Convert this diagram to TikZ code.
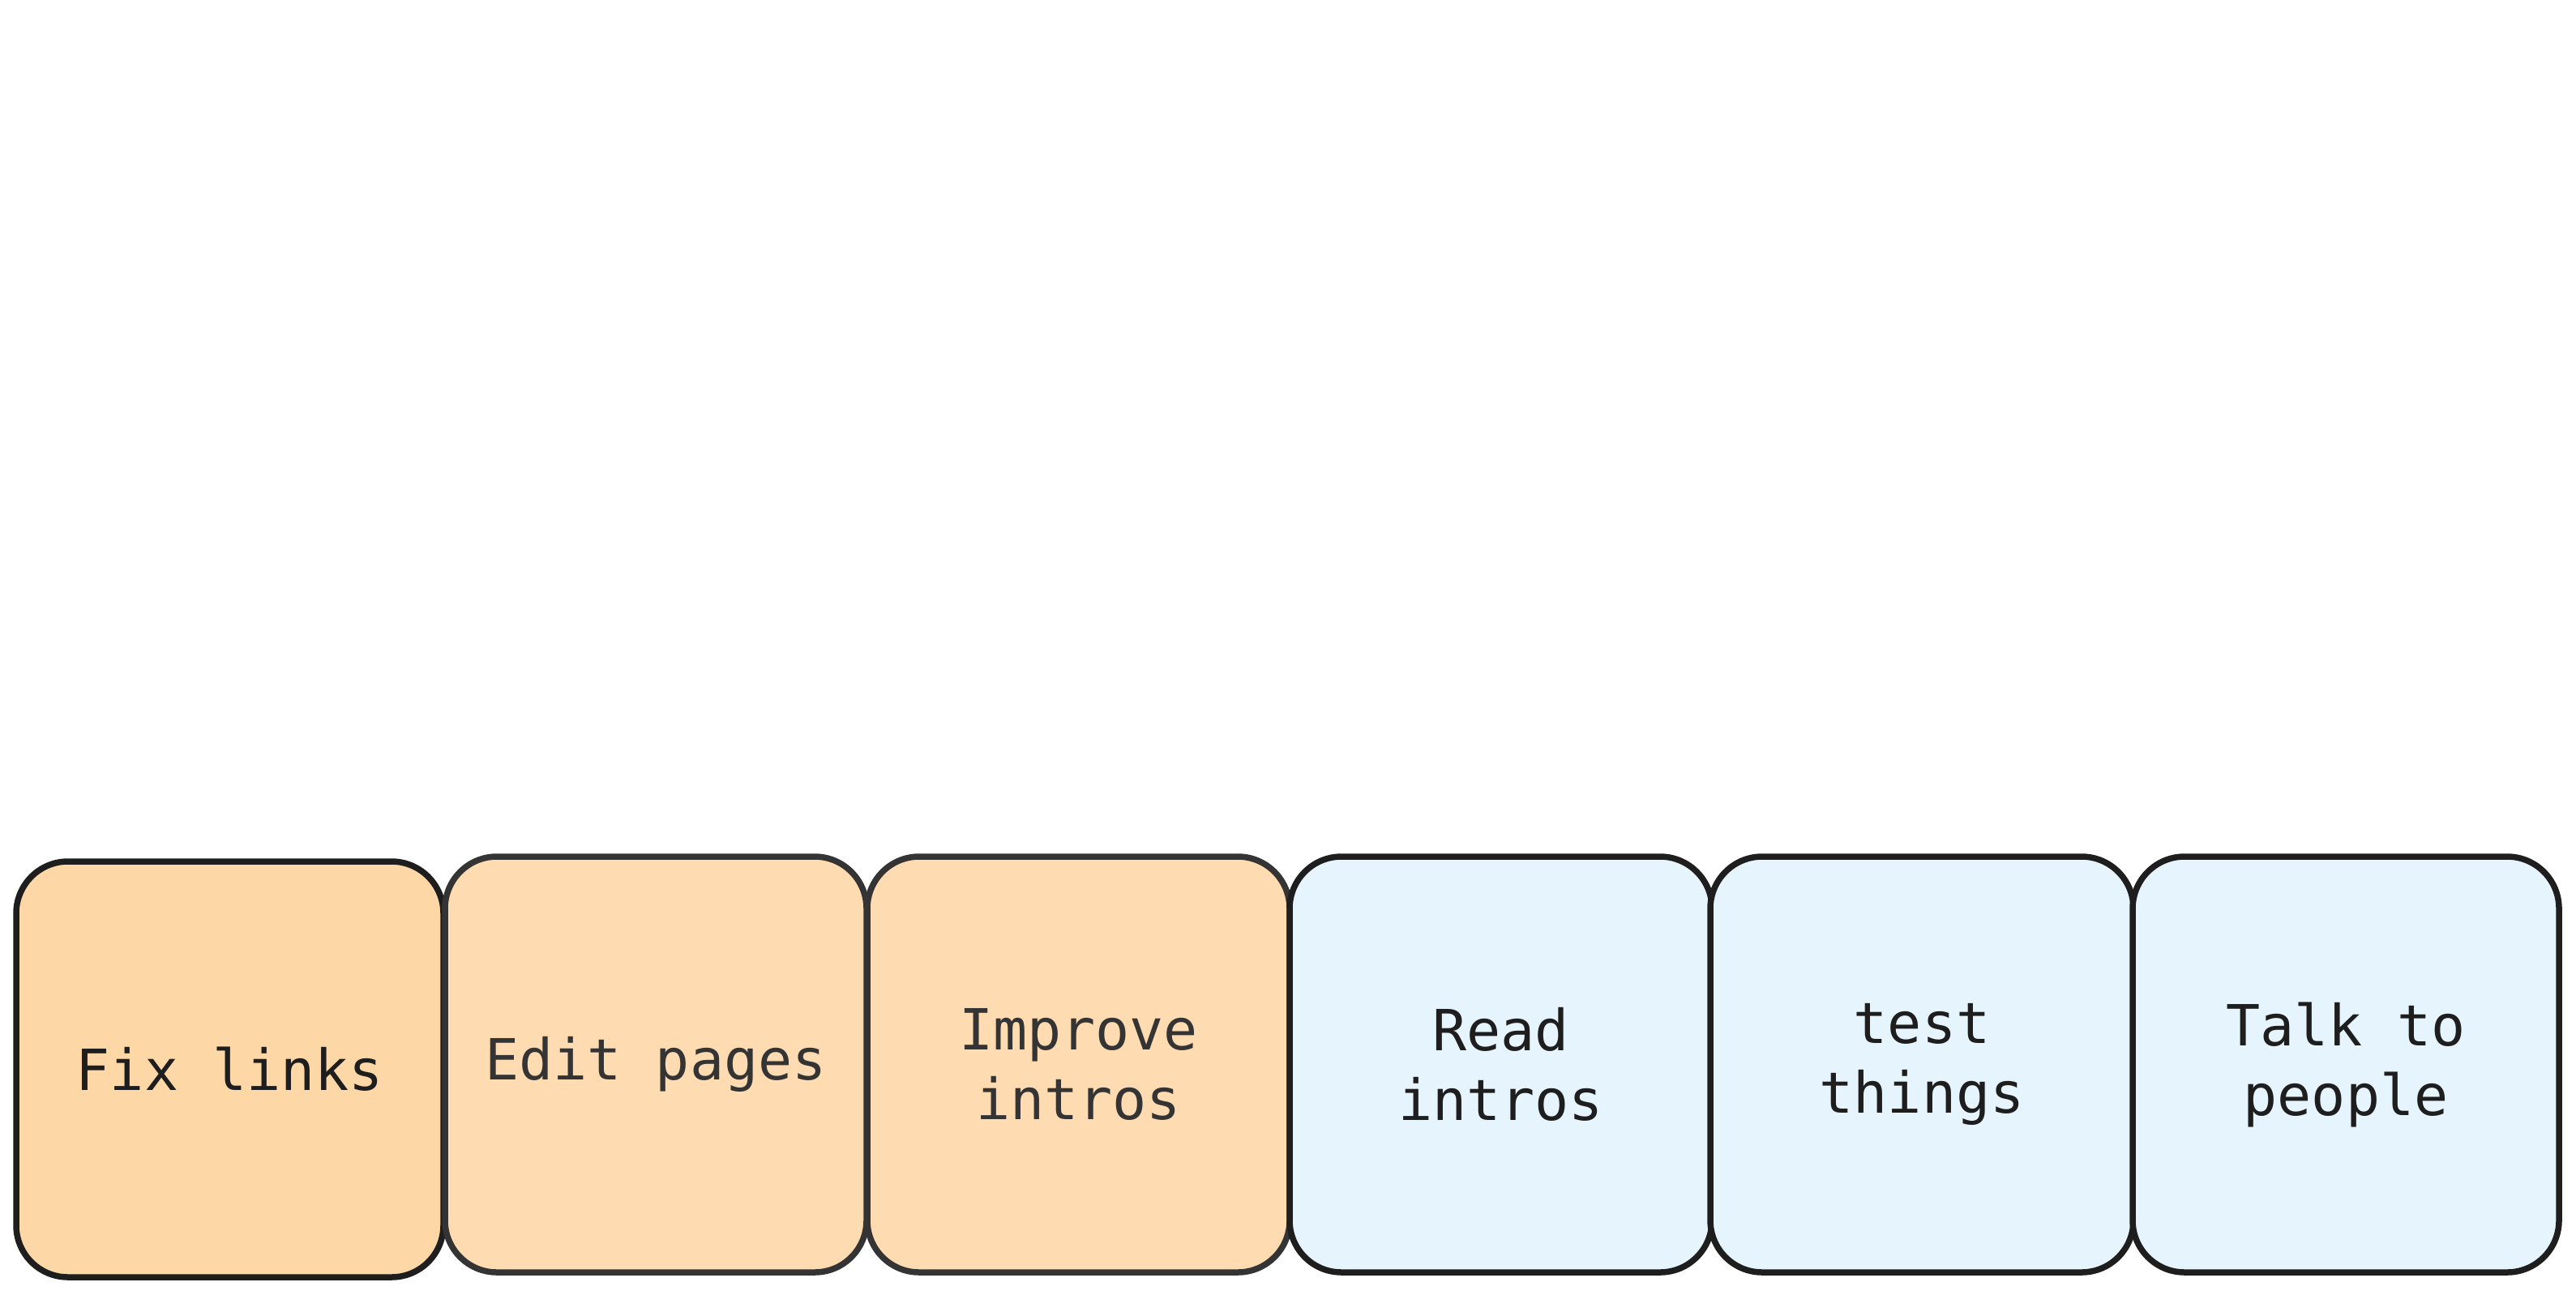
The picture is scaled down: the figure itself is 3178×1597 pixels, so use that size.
\documentclass[tikz,border=0pt]{standalone}
\usepackage{fontspec}
\setmonofont{DejaVu Sans Mono}
\definecolor{orA}{HTML}{FDD7A6}
\definecolor{orB}{HTML}{FEDBB0}
\definecolor{blu}{HTML}{E6F4FD}
\definecolor{ink}{HTML}{1E1E1E}
\definecolor{inkB}{HTML}{343434}
\tikzset{
  card/.style={rounded corners=32pt, line width=3.75pt, inner sep=0pt, outer sep=0pt,
    align=center, font=\ttfamily\fontsize{35}{43}\selectfont, minimum height=256.5pt},
  orangeA/.style={card, draw=ink, fill=orA, text=ink},
  orangeB/.style={card, draw=inkB, fill=orB, text=inkB},
  bluecard/.style={card, draw=ink, fill=blu, text=ink}
}
\begin{document}
\begin{tikzpicture}[x=0.5pt,y=-0.5pt]
\useasboundingbox[fill=white] (0,0) rectangle (3178,1597);
\node[orangeA, minimum width=263.5pt] (fix) at (283.5,1319.5) {Fix links};
\node[orangeB, minimum width=260pt] (edit) at (809,1313.5) {Edit pages};
\node[orangeB, minimum width=260.5pt] (improve) at (1330.5,1313.5) {Improve\\intros};
\node[bluecard, minimum width=260.5pt] (read) at (1851.5,1313.5) {Read\\intros};
\node[bluecard, minimum width=261pt] (test) at (2371,1313.5) {test\\things};
\node[bluecard, minimum width=263pt] (talk) at (2894,1313.5) {Talk to\\people};
\end{tikzpicture}
\end{document}
